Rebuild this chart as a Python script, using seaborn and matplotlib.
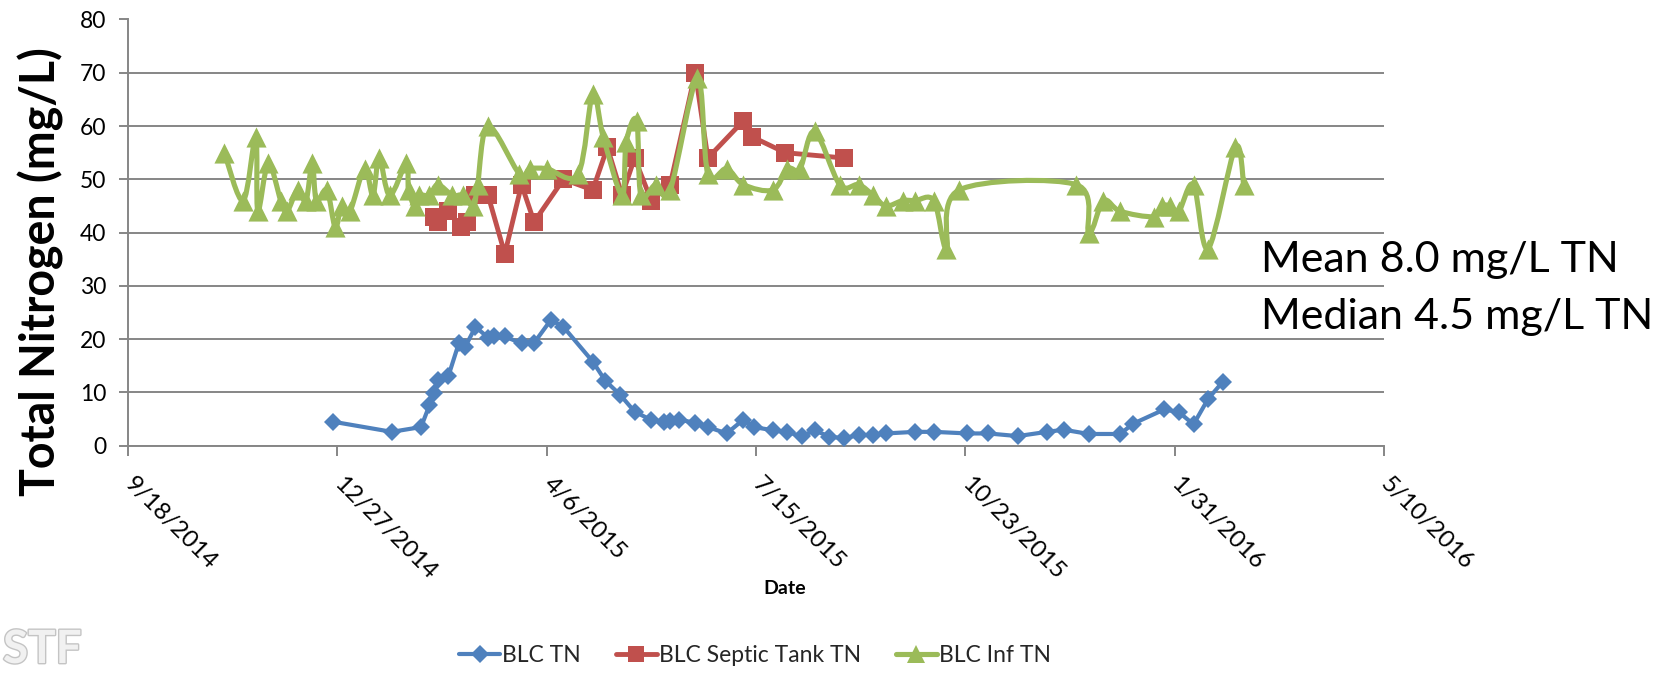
import numpy as np
import pandas as pd
import matplotlib
matplotlib.use("Agg")
import matplotlib.pyplot as plt
import matplotlib.dates as mdates
import matplotlib.patheffects as pe
from matplotlib import font_manager
from matplotlib.path import Path
from matplotlib.patches import PathPatch
from matplotlib.lines import Line2D
import seaborn as sns

# ---- data -------------------------------------------------------------
tn_dates = ["2014-12-25", "2015-01-22", "2015-02-05", "2015-02-09", "2015-02-11",
            "2015-02-13", "2015-02-18", "2015-02-23", "2015-02-26", "2015-03-03",
            "2015-03-09", "2015-03-12", "2015-03-17", "2015-03-25", "2015-03-31",
            "2015-04-08", "2015-04-14", "2015-04-28", "2015-05-04", "2015-05-11",
            "2015-05-18", "2015-05-26", "2015-06-01", "2015-06-04", "2015-06-08",
            "2015-06-16", "2015-06-22", "2015-07-01", "2015-07-09", "2015-07-14",
            "2015-07-23", "2015-07-30", "2015-08-06", "2015-08-12", "2015-08-19",
            "2015-08-26", "2015-09-02", "2015-09-09", "2015-09-15", "2015-09-29",
            "2015-10-08", "2015-10-24", "2015-11-03", "2015-11-17", "2015-12-01",
            "2015-12-09", "2015-12-21", "2016-01-05", "2016-01-11", "2016-01-26",
            "2016-02-02", "2016-02-09", "2016-02-16", "2016-02-23"]
tn_values = [4.5, 2.6, 3.5, 7.6, 9.8, 12.3, 13.0, 19.2, 18.5, 22.3,
             20.3, 20.6, 20.5, 19.2, 19.3, 23.6, 22.3, 15.8, 12.2, 9.6,
             6.4, 4.8, 4.4, 4.6, 4.9, 4.3, 3.5, 2.3, 4.9, 3.5,
             2.9, 2.5, 1.8, 2.9, 1.7, 1.4, 2.0, 2.0, 2.3, 2.6,
             2.6, 2.3, 2.3, 1.8, 2.6, 3.0, 2.2, 2.2, 4.1, 6.8,
             6.3, 4.0, 8.8, 12.0]

septic_dates = ["2015-02-11", "2015-02-13", "2015-02-18", "2015-02-24", "2015-02-27",
                "2015-03-03", "2015-03-09", "2015-03-17", "2015-03-25", "2015-03-31",
                "2015-04-14", "2015-04-28", "2015-05-05", "2015-05-12", "2015-05-18",
                "2015-05-26", "2015-06-04", "2015-06-16", "2015-06-22", "2015-07-09",
                "2015-07-13", "2015-07-29", "2015-08-26"]
septic_values = [43, 42, 44, 41, 42, 47, 47, 36, 49, 42,
                 50, 48, 56, 47, 54, 46, 49, 70, 54, 61,
                 58, 55, 54]

inf_dates = ["2014-11-03", "2014-11-12", "2014-11-18", "2014-11-19", "2014-11-24",
             "2014-11-30", "2014-12-03", "2014-12-08", "2014-12-12", "2014-12-15",
             "2014-12-17", "2014-12-22", "2014-12-26", "2014-12-29", "2015-01-02",
             "2015-01-09", "2015-01-13", "2015-01-16", "2015-01-21", "2015-01-29",
             "2015-01-30", "2015-02-02", "2015-02-04", "2015-02-09", "2015-02-13",
             "2015-02-20", "2015-02-25", "2015-03-02", "2015-03-04", "2015-03-09",
             "2015-03-24", "2015-03-29", "2015-04-06", "2015-04-21", "2015-04-28",
             "2015-05-03", "2015-05-12", "2015-05-14", "2015-05-19", "2015-05-21",
             "2015-05-28", "2015-06-04", "2015-06-17", "2015-06-22", "2015-07-01",
             "2015-07-09", "2015-07-23", "2015-07-30", "2015-08-05", "2015-08-12",
             "2015-08-24", "2015-09-02", "2015-09-09", "2015-09-15", "2015-09-23",
             "2015-09-29", "2015-10-08", "2015-10-14", "2015-10-20", "2015-12-15",
             "2015-12-21", "2015-12-28", "2016-01-05", "2016-01-21", "2016-01-25",
             "2016-01-29", "2016-02-02", "2016-02-09", "2016-02-16", "2016-02-29",
             "2016-03-04"]
inf_values = [55, 46, 58, 44, 53, 46, 44, 48, 46, 53,
              46, 48, 41, 45, 44, 52, 47, 54, 47, 53,
              48, 45, 47, 47, 49, 47, 47, 45, 49, 60,
              51, 52, 52, 51, 66, 58, 47, 57, 61, 47,
              49, 48, 69, 51, 52, 49, 48, 52, 52, 59,
              49, 49, 47, 45, 46, 46, 46, 37, 48, 49,
              40, 46, 44, 43, 45, 45, 44, 49, 37, 56,
              49]

series_names = ["BLC TN", "BLC Septic Tank TN", "BLC Inf TN"]
stats_lines = ["Mean 8.0 mg/L TN", "Median 4.5 mg/L TN"]
axis_start = "2014-09-18"
axis_end = "2016-05-10"

# ---- style --------------------------------------------------------------
sns.set_style("white")
plt.rcParams["font.family"] = ["Lato", "DejaVu Sans"]

BLUE, RED, GREEN = "#4F81BD", "#C0504D", "#9BBB59"
GRID = "#868686"

try:
    font_manager.findfont("Liberation Sans Narrow", fallback_to_default=False)
    legend_prop = font_manager.FontProperties(family="Liberation Sans Narrow", size=20)
except ValueError:
    legend_prop = font_manager.FontProperties(family="Lato", size=16.5)

W, H = 1676, 673
fig = plt.figure(figsize=(W / 100, H / 100), dpi=100)
ax = fig.add_axes([128 / W, 1 - 445.7 / H, (1384 - 128) / W, (445.7 - 19.5) / H])

tn = pd.DataFrame({"date": pd.to_datetime(tn_dates), "value": tn_values})
septic = pd.DataFrame({"date": pd.to_datetime(septic_dates), "value": septic_values})
inf = pd.DataFrame({"date": pd.to_datetime(inf_dates), "value": inf_values})

sns.lineplot(data=tn, x="date", y="value", ax=ax, color=BLUE, lw=3.0,
             marker="D", markersize=9.5, markeredgewidth=0, legend=False, zorder=3)
sns.lineplot(data=septic, x="date", y="value", ax=ax, color=RED, lw=3.5,
             marker="s", markersize=13, markeredgewidth=0, legend=False, zorder=4)


def smoothed_path(x, y):
    """Bezier path through the points, the way a smoothed spreadsheet line is drawn."""
    pts = np.column_stack([x, y]).astype(float)
    n = len(pts)
    verts = [pts[0]]
    codes = [Path.MOVETO]
    for i in range(n - 1):
        p0 = pts[i - 1] if i > 0 else pts[i]
        p1, p2 = pts[i], pts[i + 1]
        p3 = pts[i + 2] if i + 2 < n else pts[i + 1]
        verts += [p1 + (p2 - p0) / 6.0, p2 - (p3 - p1) / 6.0, p2]
        codes += [Path.CURVE4] * 3
    return Path(verts, codes)


inf_x = mdates.date2num(inf["date"])
ax.add_patch(PathPatch(smoothed_path(inf_x, inf["value"].values), fill=False,
                       edgecolor=GREEN, lw=3.7, capstyle="round", joinstyle="round",
                       zorder=5))
sns.scatterplot(data=inf, x="date", y="value", ax=ax, color=GREEN, marker="^",
                s=14.5 ** 2, linewidth=0, legend=False, zorder=6)

# ---- axes ---------------------------------------------------------------
start = pd.Timestamp(axis_start)
ax.set_xlim(mdates.date2num(start), mdates.date2num(pd.Timestamp(axis_end)))
ticks = [start + pd.Timedelta(days=100 * k) for k in range(7)]
ax.set_xticks(mdates.date2num(ticks))
ax.set_xticklabels([f"{t.month}/{t.day}/{t.year}" for t in ticks])
ax.set_ylim(0, 80)
ax.set_yticks(np.arange(0, 81, 10))
ax.set_xlabel("")
ax.set_ylabel("")

ax.grid(axis="y", color=GRID, lw=1.4)
ax.grid(axis="x", visible=False)
for side in ("top", "right"):
    ax.spines[side].set_visible(False)
for side in ("left", "bottom"):
    ax.spines[side].set_color(GRID)
    ax.spines[side].set_linewidth(1.4)
ax.tick_params(axis="y", length=6.5, width=1.4, color=GRID, pad=9,
               labelsize=16.5, labelcolor="black", left=True)
ax.tick_params(axis="x", length=7, width=1.4, color=GRID, pad=18,
               labelsize=17.5, labelcolor="black", bottom=True)
for lab in ax.get_xticklabels():
    lab.set_rotation(-45)
    lab.set_ha("left")
    lab.set_va("center")
    lab.set_rotation_mode("anchor")

# ---- titles and notes ----------------------------------------------------
fig.text(41 / W, 1 - 272 / H, "Total Nitrogen (mg/L)", rotation=90,
         ha="center", va="center", fontsize=33.5, fontweight="bold", color="black")
fig.text(785 / W, 1 - 588 / H, "Date", ha="center", va="center",
         fontsize=14, fontweight="bold", color="black")
fig.text(1261 / W, 1 - 271.7 / H, stats_lines[0], ha="left", va="baseline",
         fontsize=31, color="black")
fig.text(1261 / W, 1 - 328.5 / H, stats_lines[1], ha="left", va="baseline",
         fontsize=31, color="black")

# pale pipe-style logo in the lower left corner
fig.text(3 / W, 2 / H, "STF", ha="left", va="bottom", fontsize=33,
         fontweight="bold", color="#f1f1f1",
         path_effects=[pe.withStroke(linewidth=2, foreground="#c4c4c4")])

# ---- legend -------------------------------------------------------------
handles = [
    Line2D([], [], color=BLUE, lw=3.0, marker="D", markersize=9, markeredgewidth=0),
    Line2D([], [], color=RED, lw=3.5, marker="s", markersize=12, markeredgewidth=0),
    Line2D([], [], color=GREEN, lw=3.7, marker="^", markersize=13, markeredgewidth=0),
]
fig.legend(handles, series_names, loc="center", bbox_to_anchor=(755 / W, 1 - 656 / H),
           ncol=3, frameon=False, prop=legend_prop, handlelength=1.8,
           handletextpad=0.1, columnspacing=1.5)

fig.savefig("out.png", dpi=100, facecolor="white")
